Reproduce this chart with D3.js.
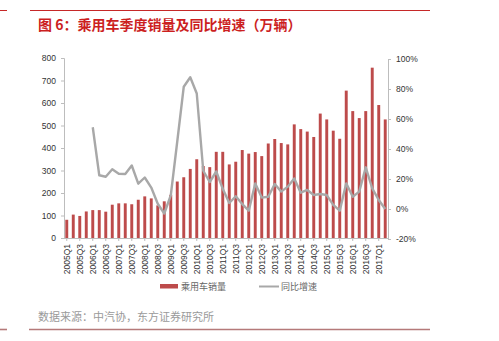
<!DOCTYPE html>
<html><head><meta charset="utf-8">
<script src="https://cdn.jsdelivr.net/npm/d3@7"></script>
<style>
body{margin:0;background:#fff;}
svg{display:block;font-family:"Liberation Sans",Arial,sans-serif;}
</style></head>
<body><svg id="c" width="499" height="341"></svg>
<script>
const quarters = [];
for (let y = 2005; y <= 2017; y++) for (let q = 1; q <= 4; q++) { if (y === 2017 && q > 2) break; quarters.push(y + "Q" + q); }
const sales = [81,104,98,118,124,124,117,148,154,154,150,170,185,176,145,163,192,251,270,307,350,320,315,383,383,327,339,391,375,382,364,420,440,422,416,505,484,473,449,553,527,477,441,655,564,533,564,757,591,527];
const growth = [null,null,null,null,54.5,22.5,21.5,26.5,23.5,23.3,29,16.9,21,14.3,3.5,-3,9,45,81.5,87.8,77,25.5,18,25,13.5,4,8.5,3.3,-1.1,17,7.6,8.2,16.7,11.6,14.9,20.4,10.9,12.7,9.3,10,9.3,2.7,-1.1,17.1,8.2,11.6,27.8,13.8,6,0];
const leftTicks = [0,100,200,300,400,500,600,700,800];
const rightTicks = [-20,0,20,40,60,80,100];
const title = "图 6：乘用车季度销量及同比增速（万辆）";
const source = "数据来源：中汽协，东方证券研究所";
const legendNames = ["乘用车销量","同比增速"];

const svg = d3.select("#c");
const x = d3.scaleBand().domain(quarters).range([64,388]).paddingInner(0.55).paddingOuter(0.2);
const yL = d3.scaleLinear().domain([0,800]).range([238,58]);
const yR = d3.scaleLinear().domain([-20,100]).range([239,59]);
const barColor = "#bd4b4b", lineColor = "#a8a8a8", axisColor = "#bdbdbd";

// frame lines
svg.append("line").attr("x1",30).attr("x2",430).attr("y1",10.5).attr("y2",10.5).attr("stroke","#c62828").attr("stroke-width",1);
svg.append("line").attr("x1",0).attr("x2",7).attr("y1",10.5).attr("y2",10.5).attr("stroke","#c62828").attr("stroke-width",1);
svg.append("line").attr("x1",29).attr("x2",430).attr("y1",329.5).attr("y2",329.5).attr("stroke","#b57a7a").attr("stroke-width",1.6);
svg.append("line").attr("x1",0).attr("x2",7).attr("y1",329.5).attr("y2",329.5).attr("stroke","#b57a7a").attr("stroke-width",1.6);

svg.append("text").attr("x",38).attr("y",30).attr("fill","#cc1f1f").attr("font-size",14).attr("font-weight","bold")
  .attr("font-family","'Noto Sans CJK SC',sans-serif").text(title);
svg.append("text").attr("x",38).attr("y",321).attr("fill","#9a9a9a").attr("font-size",11)
  .attr("font-family","'Noto Sans CJK SC',sans-serif").text(source);

// bars
svg.append("g").selectAll("rect").data(sales).join("rect")
  .attr("x",(d,i)=>x(quarters[i])).attr("width",x.bandwidth())
  .attr("y",d=>yL(d)).attr("height",d=>yL(0)-yL(d)).attr("fill",barColor);

// line
const line = d3.line().defined(d=>d!==null).x((d,i)=>x(quarters[i])+x.bandwidth()/2).y(d=>yR(d));
svg.append("path").datum(growth).attr("d",line).attr("fill","none").attr("stroke",lineColor).attr("stroke-width",2.4).attr("stroke-linejoin","round");

// left axis
const gl = svg.append("g").attr("transform","translate(64,0)")
  .call(d3.axisLeft(yL).tickValues(leftTicks).tickSize(3).tickPadding(5));
// right axis
const gr = svg.append("g").attr("transform","translate(388,0)")
  .call(d3.axisRight(yR).tickValues(rightTicks).tickSize(3).tickPadding(5).tickFormat(d=>d+"%"));
// bottom axis
const gb = svg.append("g").attr("transform","translate(0,238)")
  .call(d3.axisBottom(x).tickValues(quarters.filter((q,i)=>i%2===0)).tickSize(3).tickPadding(4));
gb.selectAll("text").attr("transform","rotate(-90)").attr("text-anchor","end").attr("x",-6).attr("y",0).attr("dy","0.35em");
[gl,gr,gb].forEach(g=>{
  g.selectAll(".domain").attr("stroke",axisColor).attr("stroke-width",1);
  g.selectAll(".tick line").attr("stroke",axisColor);
  g.selectAll("text").attr("fill","#333").attr("font-size",8.5).attr("font-family","'Liberation Sans',Arial,sans-serif");
});
gb.select(".domain").attr("d","M64,0.5H388");

// legend
const lg = svg.append("g");
lg.append("rect").attr("x",160).attr("y",284).attr("width",18).attr("height",4.5).attr("fill",barColor);
lg.append("text").attr("x",181).attr("y",289.5).attr("font-size",9).attr("fill","#666").attr("font-family","'Noto Sans CJK SC',sans-serif").text(legendNames[0]);
lg.append("line").attr("x1",259).attr("x2",279).attr("y1",286.5).attr("y2",286.5).attr("stroke",lineColor).attr("stroke-width",2);
lg.append("text").attr("x",281).attr("y",289.5).attr("font-size",9).attr("fill","#666").attr("font-family","'Noto Sans CJK SC',sans-serif").text(legendNames[1]);
</script></body></html>
